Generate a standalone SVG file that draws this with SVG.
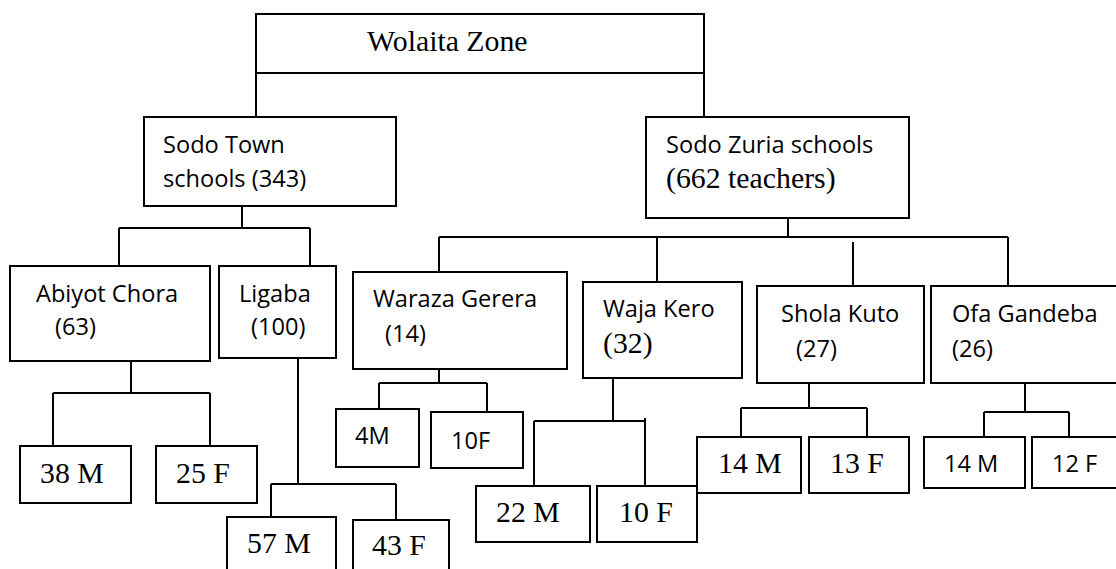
<svg xmlns="http://www.w3.org/2000/svg" width="1116" height="569" viewBox="0 0 1116 569">
<style>
rect{fill:#fff;stroke:#000;stroke-width:2}
.c path{fill:none;stroke:#000;stroke-width:2}
.s{font-family:"Open Sans","Liberation Sans",sans-serif;font-size:23.6px;fill:#000}
.t{font-family:"Liberation Serif","Times New Roman",serif;font-size:29.8px;fill:#000}
</style>
<rect x="0" y="0" width="1116" height="569" style="stroke:none"/>
<g id="connectors" class="c">
<path d="M256 73V118M704 73V133"/>
<path d="M242 206V228M119 228H310M119 228V266M310 228V266"/>
<path d="M788 218V237M439 237H1008M439 237V272M657 237V282M853 242V286M1008 237V286"/>
<path d="M131 361V393M53 393H210M53 393V446M210 393V446"/>
<path d="M298 358V484M271 484H396M271 484V518M396 484V520"/>
<path d="M439 369V383M379 383H487M379 383V409M487 383V412"/>
<path d="M613 378V421M534 421H645M534 421V486M645 418V486"/>
<path d="M809 378V408M741 408H867M741 408V437M867 408V437"/>
<path d="M1025 383V412M984 412H1069M984 412V437M1069 412V437"/>
</g>
<g id="wolaita"><rect x="256" y="14" width="448" height="59"/><text class="t" x="367" y="51">Wolaita Zone</text></g>
<g id="sodo-town"><rect x="144" y="117" width="252" height="89"/><text class="s" x="163" y="153">Sodo Town</text><text class="s" x="163" y="187">schools (343)</text></g>
<g id="sodo-zuria"><rect x="646" y="117" width="263" height="101"/><text class="s" x="666" y="153">Sodo Zuria schools</text><text class="t" x="666" y="188">(662 teachers)</text></g>
<g id="abiyot"><rect x="10" y="266" width="200" height="95"/><text class="s" x="36" y="302">Abiyot Chora</text><text class="s" x="55" y="335">(63)</text></g>
<g id="ligaba"><rect x="219" y="266" width="117" height="92"/><text class="s" x="239" y="302">Ligaba</text><text class="s" x="251" y="335">(100)</text></g>
<g id="waraza"><rect x="353" y="272" width="214" height="97"/><text class="s" x="373" y="307">Waraza Gerera</text><text class="s" x="385" y="342">(14)</text></g>
<g id="waja"><rect x="583" y="282" width="159" height="96"/><text class="s" x="603" y="317">Waja Kero</text><text class="t" x="603" y="353">(32)</text></g>
<g id="shola"><rect x="757" y="286" width="167" height="97"/><text class="s" x="781" y="322">Shola Kuto</text><text class="s" x="796" y="357">(27)</text></g>
<g id="ofa"><rect x="931" y="286" width="200" height="97"/><text class="s" x="952" y="322">Ofa Gandeba</text><text class="s" x="952" y="357">(26)</text></g>
<g id="abiyot-m"><rect x="20" y="446" width="111" height="57"/><text class="t" x="40" y="483">38 M</text></g>
<g id="abiyot-f"><rect x="156" y="446" width="101" height="57"/><text class="t" x="176" y="483">25 F</text></g>
<g id="ligaba-m"><rect x="227" y="517" width="109" height="70"/><text class="t" x="247" y="553">57 M</text></g>
<g id="ligaba-f"><rect x="353" y="520" width="96" height="70"/><text class="t" x="372" y="555">43 F</text></g>
<g id="waraza-m"><rect x="336" y="409" width="83" height="58"/><text class="s" x="355" y="444">4M</text></g>
<g id="waraza-f"><rect x="431" y="412" width="92" height="56"/><text class="s" x="451" y="449">10F</text></g>
<g id="waja-m"><rect x="476" y="486" width="114" height="56"/><text class="t" x="496" y="522">22 M</text></g>
<g id="waja-f"><rect x="597" y="486" width="100" height="56"/><text class="t" x="619" y="522">10 F</text></g>
<g id="shola-m"><rect x="697" y="437" width="104" height="56"/><text class="t" x="718" y="473">14 M</text></g>
<g id="shola-f"><rect x="809" y="437" width="100" height="56"/><text class="t" x="830" y="473">13 F</text></g>
<g id="ofa-m"><rect x="924" y="437" width="101" height="51"/><text class="s" x="944" y="472">14 M</text></g>
<g id="ofa-f"><rect x="1032" y="437" width="100" height="51"/><text class="s" x="1052" y="472">12 F</text></g>
</svg>
